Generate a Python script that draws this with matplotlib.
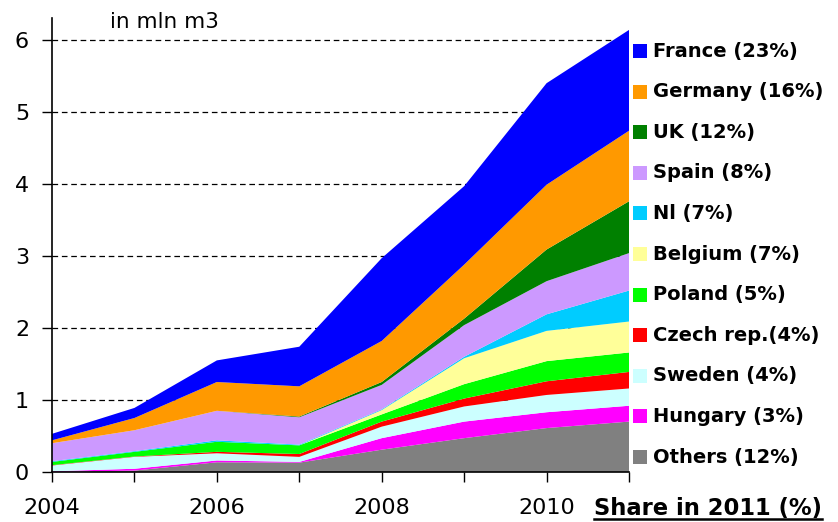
import matplotlib
matplotlib.use("Agg")
import matplotlib.pyplot as plt
from matplotlib.patches import Rectangle
from matplotlib.lines import Line2D

years = [2004, 2005, 2006, 2007, 2008, 2009, 2010, 2011]

# bottom -> top stacking order (values in mln m3)
others  = [0.00, 0.02, 0.135, 0.13, 0.31, 0.47, 0.61, 0.70]
hungary = [0.01, 0.025, 0.025, 0.01, 0.16, 0.23, 0.22, 0.22]
sweden  = [0.08, 0.165, 0.10, 0.07, 0.16, 0.21, 0.24, 0.24]
czech   = [0.005, 0.005, 0.02, 0.04, 0.07, 0.11, 0.19, 0.23]
poland  = [0.045, 0.065, 0.14, 0.12, 0.10, 0.20, 0.28, 0.27]
belgium = [0.00, 0.00, 0.00, 0.00, 0.06, 0.36, 0.42, 0.43]
nl      = [0.01, 0.01, 0.02, 0.01, 0.01, 0.02, 0.23, 0.43]
spain   = [0.25, 0.29, 0.41, 0.38, 0.34, 0.44, 0.46, 0.52]
uk      = [0.00, 0.00, 0.00, 0.01, 0.04, 0.09, 0.44, 0.72]
germany = [0.04, 0.17, 0.40, 0.42, 0.57, 0.75, 0.90, 0.98]
france  = [0.09, 0.14, 0.30, 0.55, 1.15, 1.09, 1.41, 1.40]

series = [others, hungary, sweden, czech, poland, belgium, nl, spain, uk, germany, france]
labels = ["Others (12%)", "Hungary (3%)", "Sweden (4%)", "Czech rep.(4%)", "Poland (5%)",
          "Belgium (7%)", "Nl (7%)", "Spain (8%)", "UK (12%)", "Germany (16%)", "France (23%)"]
colors = ["#808080", "#FF00FF", "#CCFFFF", "#FF0000", "#00FF00",
          "#FFFF99", "#00CCFF", "#CC99FF", "#008000", "#FF9900", "#0000FF"]

xticks = [2004, 2005, 2006, 2007, 2008, 2009, 2010, 2011]
xticklabels = ["2004", "", "2006", "", "2008", "", "2010", ""]
yticks = [0, 1, 2, 3, 4, 5, 6]

plt.rcParams['font.family'] = ['DejaVu Sans']

W, H = 838, 522
fig = plt.figure(figsize=(W / 100, H / 100), dpi=100)
ax = fig.add_axes([52 / W, 50 / H, (629 - 52) / W, (472 - 18) / H])

ax.stackplot(years, *series, colors=colors, linewidth=0, zorder=2)

ax.set_xlim(2004, 2011)
ax.set_ylim(0, (472 - 18) / 72)
ax.set_xticks(xticks)
ax.set_xticklabels(xticklabels)
ax.set_yticks(yticks)
ax.tick_params(axis='x', direction='out', length=7.5, width=1, pad=11, labelsize=16)
ax.tick_params(axis='y', direction='out', length=7.5, width=1, pad=9, labelsize=16)

ax.set_axisbelow(True)
ax.yaxis.grid(True, color='black', linestyle=(0, (4.5, 3)), linewidth=0.9)
for s in ['top', 'right']:
    ax.spines[s].set_visible(False)
ax.spines['left'].set_linewidth(1.2)
ax.spines['bottom'].set_linewidth(1.2)

fig.text(110 / W, 1 - 28 / H, "in mln m3", fontsize=15.5, ha='left', va='baseline')

# legend (top -> bottom)
for i, (lab, col) in enumerate(zip(labels[::-1], colors[::-1])):
    yc = 51 + i * 40.6
    fig.patches.append(Rectangle((633 / W, 1 - (yc + 7) / H), 14 / W, 14 / H,
                                 transform=fig.transFigure, facecolor=col,
                                 edgecolor='none', figure=fig))
    fig.text(653 / W, 1 - yc / H, lab, fontsize=14, fontweight='bold',
             ha='left', va='center')

t = fig.text(594 / W, 1 - 515 / H, "Share in 2011 (%)", fontsize=16.3,
             fontweight='bold', ha='left', va='baseline')
fig.canvas.draw()
bb = t.get_window_extent()
fig.lines.append(Line2D([bb.x0 / W, bb.x1 / W], [1 - 519 / H, 1 - 519 / H],
                        transform=fig.transFigure, color='black', linewidth=1.8))

fig.savefig("out.png", dpi=100)
